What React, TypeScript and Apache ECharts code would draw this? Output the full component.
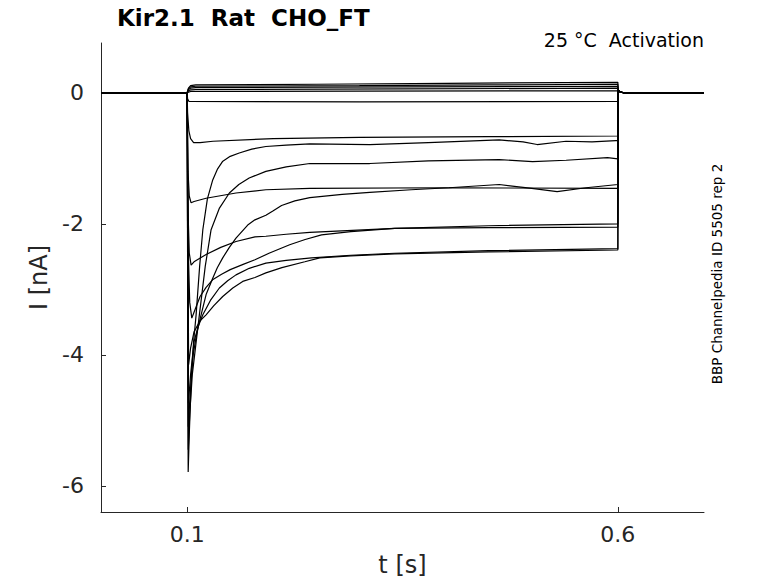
import React, { useEffect, useRef } from "react";
import * as echarts from "echarts";

// time [s], current [nA]
const baseline = [[0, 0], [0.1, 0]];
const stepOff = [[0.6003, 0.04], [0.603, 0.01], [0.607, 0], [0.7, 0]];

const tracePos1 = [[0.1015, 0.07], [0.104, 0.11], [0.11, 0.12], [0.25, 0.13], [0.4, 0.145], [0.6, 0.16]];
const tracePos2 = [[0.1015, 0.06], [0.104, 0.09], [0.11, 0.1], [0.3, 0.11], [0.45, 0.12], [0.6, 0.13]];
const tracePos3 = [[0.1015, 0.05], [0.104, 0.07], [0.11, 0.08], [0.35, 0.09], [0.6, 0.1]];
const tracePos4 = [[0.1015, 0.03], [0.104, 0.045], [0.11, 0.05], [0.35, 0.06], [0.6, 0.07]];
const tracePos5 = [[0.1015, 0.01], [0.104, 0.02], [0.3, 0.025], [0.6, 0.03]];
const traceN0 = [[0.1005, -0.09], [0.102, -0.13], [0.3, -0.14], [0.6, -0.13]];
const traceP1 = [[0.1005, -0.3], [0.102, -0.58], [0.104, -0.7], [0.1075, -0.76], [0.115, -0.76], [0.13, -0.74], [0.2, -0.7], [0.3, -0.68], [0.45, -0.67], [0.6, -0.66]];
const traceP2 = [[0.101, -1.2], [0.1025, -1.58], [0.1046, -1.68], [0.108, -1.66], [0.122, -1.61], [0.1567, -1.53], [0.1914, -1.48], [0.2424, -1.46], [0.4, -1.45], [0.6, -1.46]];
const traceP3 = [[0.101, -1.8], [0.1025, -2.45], [0.1046, -2.63], [0.108, -2.58], [0.122, -2.47], [0.139, -2.36], [0.1567, -2.27], [0.1787, -2.2], [0.1914, -2.19], [0.215, -2.16], [0.2424, -2.13], [0.341, -2.07], [0.45, -2.06], [0.6, -2.05]];
const traceG = [[0.1015, -2.5], [0.103, -3.2], [0.1054, -3.44], [0.108, -3.35], [0.115, -3.11], [0.122, -2.97], [0.13, -2.85], [0.14, -2.77], [0.15, -2.7], [0.165, -2.62], [0.1787, -2.55], [0.195, -2.45], [0.219, -2.32], [0.237, -2.24], [0.256, -2.17], [0.29, -2.12], [0.341, -2.07], [0.45, -2.03], [0.6, -2.0]];
const traceE = [[0.1017, -4.15], [0.104, -3.9], [0.108, -3.65], [0.115, -3.48], [0.122, -3.39], [0.131, -3.25], [0.1413, -3.11], [0.153, -2.98], [0.1645, -2.88], [0.1787, -2.82], [0.1914, -2.75], [0.21, -2.67], [0.2366, -2.58], [0.254, -2.52], [0.29, -2.49], [0.341, -2.46], [0.45, -2.43], [0.6, -2.4]];
const traceD = [[0.1015, -4.74], [0.104, -4.3], [0.108, -3.8], [0.1125, -3.58], [0.1182, -3.39], [0.127, -3.17], [0.1374, -2.98], [0.147, -2.87], [0.1567, -2.78], [0.1721, -2.68], [0.1914, -2.6], [0.215, -2.56], [0.2443, -2.52], [0.29, -2.48], [0.3407, -2.45], [0.45, -2.41], [0.6, -2.38]];
const traceC = [[0.1013, -5.1], [0.1035, -4.6], [0.107, -4.0], [0.111, -3.68], [0.1162, -3.39], [0.122, -3.08], [0.1297, -2.83], [0.135, -2.67], [0.1413, -2.52], [0.149, -2.36], [0.1567, -2.22], [0.1703, -2.02], [0.1787, -1.94], [0.1914, -1.87], [0.2, -1.8], [0.2096, -1.72], [0.225, -1.65], [0.2424, -1.6], [0.28, -1.55], [0.312, -1.52], [0.36, -1.48], [0.404, -1.45], [0.4623, -1.4], [0.5, -1.46], [0.5295, -1.51], [0.563, -1.45], [0.6, -1.4]];
const traceB = [[0.1013, -5.45], [0.103, -4.9], [0.106, -4.3], [0.1105, -3.8], [0.1142, -3.39], [0.121, -2.65], [0.1278, -2.09], [0.1375, -1.76], [0.149, -1.53], [0.16, -1.4], [0.172, -1.3], [0.1914, -1.2], [0.215, -1.13], [0.2424, -1.08], [0.312, -1.08], [0.38, -1.04], [0.4623, -1.02], [0.501, -1.05], [0.54, -1.03], [0.588, -0.99], [0.6, -1.01]];
const traceA = [[0.1012, -5.79], [0.1025, -5.2], [0.105, -4.3], [0.1075, -3.8], [0.1104, -3.39], [0.1145, -2.65], [0.1182, -2.09], [0.1235, -1.62], [0.1297, -1.33], [0.135, -1.17], [0.141, -1.05], [0.15, -0.97], [0.1605, -0.92], [0.175, -0.86], [0.1914, -0.82], [0.215, -0.8], [0.2424, -0.78], [0.312, -0.79], [0.38, -0.76], [0.4623, -0.72], [0.49, -0.75], [0.5063, -0.79], [0.5398, -0.74], [0.57, -0.75], [0.5977, -0.73], [0.6, -0.73]];

const traces = [tracePos1, tracePos2, tracePos3, tracePos4, tracePos5, traceN0, traceP1, traceP2, traceP3, traceG, traceE, traceD, traceC, traceB, traceA];

const xTicks = [0.1, 0.6];
const yTicks = [-6, -4, -2, 0];

const FONT = "DejaVu Sans";
const AX = "#262626";

export default function App() {
  const ref = useRef<HTMLDivElement>(null);
  useEffect(() => {
    if (!ref.current) return;
    const chart = echarts.init(ref.current, undefined, { renderer: "svg" });
    chart.setOption({
      animation: false,
      backgroundColor: "#ffffff",
      grid: { left: 101, top: 43, right: 74, bottom: 71, outerBoundsMode: "none", containLabel: false },
      xAxis: {
        type: "value",
        min: 0,
        max: 0.7,
        name: "t [s]",
        nameLocation: "middle",
        nameGap: 41,
        nameTextStyle: { fontFamily: FONT, fontSize: 24, color: AX },
        axisLine: { show: true, onZero: false, lineStyle: { color: AX, width: 1 } },
        axisTick: { show: true, inside: true, length: 5, customValues: xTicks, lineStyle: { color: AX } },
        axisLabel: { customValues: xTicks, fontFamily: FONT, fontSize: 22, color: AX, margin: 11, formatter: (v: number) => String(v) },
        splitLine: { show: false },
      },
      yAxis: {
        type: "value",
        min: -6.4,
        max: 0.76,
        name: "I [nA]",
        nameLocation: "middle",
        nameGap: 44,
        nameTextStyle: { fontFamily: FONT, fontSize: 24, color: AX },
        axisLine: { show: true, onZero: false, lineStyle: { color: AX, width: 1 } },
        axisTick: { show: true, inside: true, length: 5, customValues: yTicks, lineStyle: { color: AX } },
        axisLabel: { customValues: yTicks, fontFamily: FONT, fontSize: 22, color: AX, margin: 17, formatter: (v: number) => String(v) },
        splitLine: { show: false },
      },
      graphic: [
        { type: "text", x: 117, y: 18, style: { text: "Kir2.1  Rat  CHO_FT", font: `bold 23px ${FONT}`, fill: "#000", textAlign: "left", textVerticalAlign: "middle" } },
        { type: "text", x: 704, y: 40, style: { text: "25 °C  Activation", font: `19px ${FONT}`, fill: "#000", textAlign: "right", textVerticalAlign: "middle" } },
        { type: "text", x: 717, y: 274, rotation: Math.PI / 2, style: { text: "BBP Channelpedia ID 5505 rep 2", font: `13.5px ${FONT}`, fill: "#000", textAlign: "center", textVerticalAlign: "middle" } },
      ],
      series: traces.map((tr) => ({
        type: "line",
        data: [...baseline, ...tr, ...stepOff],
        showSymbol: false,
        symbol: "none",
        silent: true,
        lineStyle: { color: "#000", width: 1.2 },
      })),
    });
    return () => chart.dispose();
  }, []);
  return <div ref={ref} style={{ position: "fixed", left: 0, top: 0, width: 778, height: 583, background: "#fff" }} />;
}
